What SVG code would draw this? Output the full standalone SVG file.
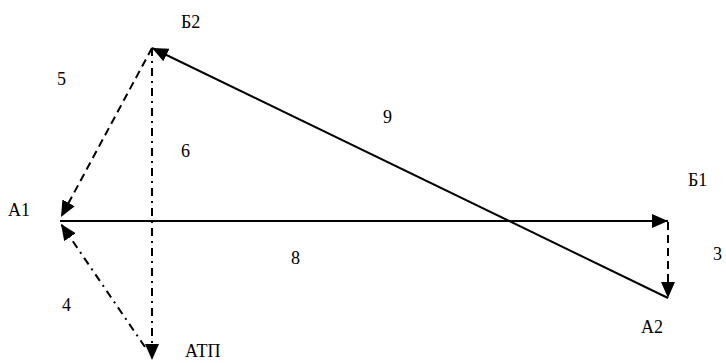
<svg xmlns="http://www.w3.org/2000/svg" width="726" height="363" viewBox="0 0 726 363">
<style>
.ln{stroke:#000;stroke-width:2;fill:none}
.dash{stroke-dasharray:8 5}
.dd{stroke-dasharray:8 5 2 5}
</style>
<defs>
<marker id="ah" markerUnits="userSpaceOnUse" markerWidth="18" markerHeight="16" refX="16" refY="7" orient="auto">
<path d="M0,0 L16,7 L0,14 Z" fill="#000"/>
</marker>
</defs>
<rect width="726" height="363" fill="#fff"/>
<g id="connectors">
<line class="ln" x1="668" y1="298" x2="152" y2="48" marker-end="url(#ah)"/>
<line class="ln" x1="60" y1="221" x2="668" y2="221" stroke-width="2.5" marker-end="url(#ah)"/>
<line class="ln dash" x1="668" y1="222" x2="668" y2="298" marker-end="url(#ah)"/>
<line class="ln dash" x1="152" y1="48" x2="61" y2="217" marker-end="url(#ah)"/>
<line class="ln dd" x1="152" y1="48" x2="152" y2="360" marker-end="url(#ah)"/>
<line class="ln dd" x1="145" y1="347" x2="61" y2="224" marker-end="url(#ah)"/>
</g>
<g font-family="Liberation Serif, Times New Roman, serif" font-size="18" fill="#000">
<g id="labels">
<text x="57" y="85">5</text>
<text x="181" y="157">6</text>
<text x="383" y="123">9</text>
<text x="291" y="264">8</text>
<text x="713" y="260">3</text>
<text x="62" y="311">4</text>
</g>
<g id="node-B2"><text x="181" y="28">Б2</text></g>
<g id="node-A1"><text x="8" y="216">А1</text></g>
<g id="node-B1"><text x="688" y="186">Б1</text></g>
<g id="node-A2"><text x="641" y="333">А2</text></g>
<g id="node-ATP"><text x="185" y="357">АТП</text></g>
</g>
</svg>
